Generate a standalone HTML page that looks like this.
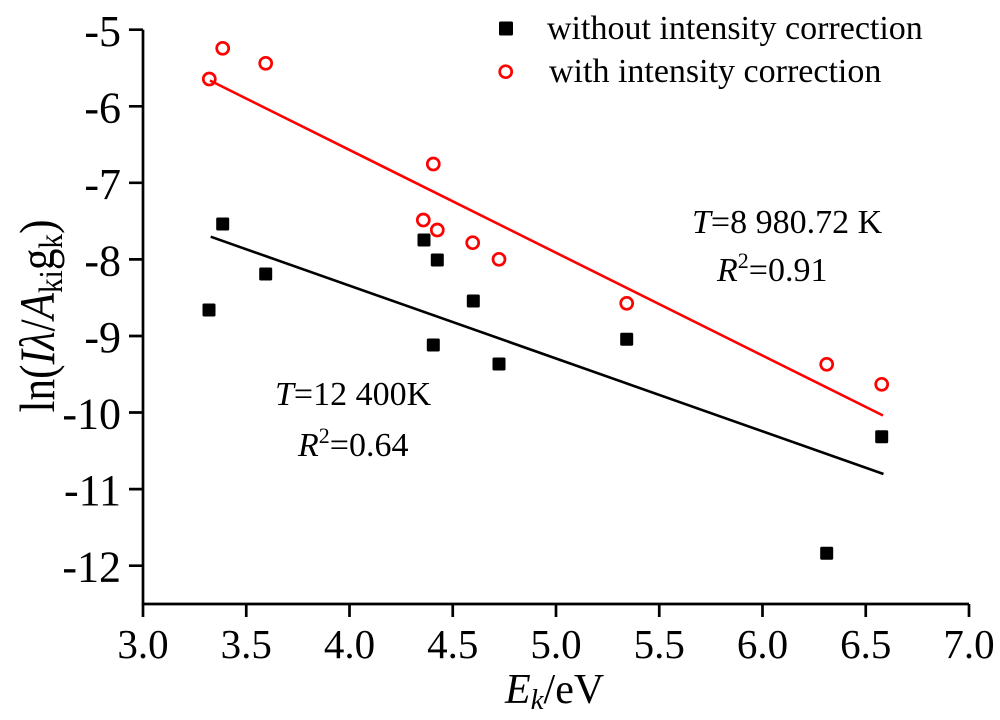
<!DOCTYPE html>
<html>
<head>
<meta charset="utf-8">
<style>
  html, body { margin: 0; padding: 0; background: #ffffff; }
  svg { display: block; }
  text { font-family: "Liberation Serif", "Times New Roman", serif; fill: #000; }
</style>
</head>
<body>
<svg width="1000" height="720" viewBox="0 0 1000 720" xmlns="http://www.w3.org/2000/svg">
  <rect x="0" y="0" width="1000" height="720" fill="#ffffff"/>

  <!-- Axes -->
  <g stroke="#000" stroke-width="2.7" fill="none" stroke-linecap="butt">
    <path d="M143,29.7 L143,604 L969,604"/>
    <!-- y ticks -->
    <path d="M129,29.7 H143 M129,106.3 H143 M129,182.8 H143 M129,259.4 H143 M129,336 H143 M129,412.5 H143 M129,489.1 H143 M129,565.7 H143"/>
    <!-- x ticks -->
    <path d="M143,604 V617 M246.25,604 V617 M349.5,604 V617 M452.75,604 V617 M556,604 V617 M659.25,604 V617 M762.5,604 V617 M865.75,604 V617 M969,604 V617"/>
  </g>

  <!-- Y tick labels -->
  <g font-size="44" text-anchor="end">
    <text x="121" y="46">-5</text>
    <text x="121" y="122.5">-6</text>
    <text x="121" y="199">-7</text>
    <text x="121" y="275.5">-8</text>
    <text x="121" y="352">-9</text>
    <text x="121" y="428.5">-10</text>
    <text x="121" y="505">-11</text>
    <text x="121" y="581.5">-12</text>
  </g>

  <!-- X tick labels -->
  <g font-size="41" text-anchor="middle">
    <text x="143" y="658">3.0</text>
    <text x="246.25" y="658">3.5</text>
    <text x="349.5" y="658">4.0</text>
    <text x="452.75" y="658">4.5</text>
    <text x="556" y="658">5.0</text>
    <text x="659.25" y="658">5.5</text>
    <text x="762.5" y="658">6.0</text>
    <text x="865.75" y="658">6.5</text>
    <text x="969" y="658">7.0</text>
  </g>

  <!-- X axis title -->
  <text x="505" y="703" font-size="42"><tspan font-style="italic">E</tspan><tspan font-style="italic" font-size="29" dy="6">k</tspan><tspan dy="-6">/eV</tspan></text>

  <!-- Y axis title -->
  <text transform="translate(54,316) rotate(-90)" x="0" y="0" font-size="50" text-anchor="middle" textLength="193" lengthAdjust="spacingAndGlyphs">ln(<tspan font-style="italic">Iλ</tspan>/<tspan font-style="italic">A</tspan><tspan font-size="34" dy="8">ki</tspan><tspan dy="-8">g</tspan><tspan font-size="34" dy="8">k</tspan><tspan dy="-8">)</tspan></text>

  <!-- Fit lines -->
  <line x1="210" y1="80.5" x2="883" y2="415.5" stroke="#ff0000" stroke-width="2.6"/>
  <line x1="210.7" y1="236.7" x2="883.5" y2="474" stroke="#000000" stroke-width="2.6"/>

  <!-- Black squares (without intensity correction) -->
  <g fill="#000">
    <rect x="202.5" y="303.5" width="13" height="13" rx="1.5"/>
    <rect x="216.2" y="217.5" width="13" height="13" rx="1.5"/>
    <rect x="259.2" y="267.5" width="13" height="13" rx="1.5"/>
    <rect x="417.5" y="233.5" width="13" height="13" rx="1.5"/>
    <rect x="430.8" y="253.5" width="13" height="13" rx="1.5"/>
    <rect x="426.8" y="338.5" width="13" height="13" rx="1.5"/>
    <rect x="466.8" y="294.5" width="13" height="13" rx="1.5"/>
    <rect x="492.5" y="357.5" width="13" height="13" rx="1.5"/>
    <rect x="620.2" y="332.8" width="13" height="13" rx="1.5"/>
    <rect x="820.2" y="546.8" width="13" height="13" rx="1.5"/>
    <rect x="875.2" y="430.2" width="13" height="13" rx="1.5"/>
  </g>

  <!-- Red circles (with intensity correction) -->
  <g fill="none" stroke="#ff0000" stroke-width="2.7">
    <circle cx="209.3" cy="79" r="6"/>
    <circle cx="222.7" cy="48.3" r="6"/>
    <circle cx="265.7" cy="63.3" r="6"/>
    <circle cx="433.3" cy="164" r="6"/>
    <circle cx="423.3" cy="220" r="6"/>
    <circle cx="437.3" cy="230" r="6"/>
    <circle cx="472.7" cy="242.7" r="6"/>
    <circle cx="499" cy="259.3" r="6"/>
    <circle cx="626.7" cy="303.3" r="6"/>
    <circle cx="826.7" cy="364.3" r="6"/>
    <circle cx="881.7" cy="384.3" r="6"/>
  </g>

  <!-- Legend -->
  <rect x="499" y="21.5" width="14" height="14" rx="1.5" fill="#000"/>
  <circle cx="505.7" cy="71.7" r="6" fill="none" stroke="#ff0000" stroke-width="2.7"/>
  <text x="547" y="39" font-size="34">without intensity correction</text>
  <text x="549" y="82" font-size="34">with intensity correction</text>

  <!-- Annotations -->
  <text x="692" y="233" font-size="34"><tspan font-style="italic">T</tspan>=8 980.72 K</text>
  <text x="717" y="281" font-size="34"><tspan font-style="italic">R</tspan><tspan font-size="22" dy="-13">2</tspan><tspan dy="13">=0.91</tspan></text>
  <text x="275" y="405" font-size="34"><tspan font-style="italic">T</tspan>=12 400K</text>
  <text x="298" y="456" font-size="34"><tspan font-style="italic">R</tspan><tspan font-size="22" dy="-13">2</tspan><tspan dy="13">=0.64</tspan></text>
</svg>
</body>
</html>
